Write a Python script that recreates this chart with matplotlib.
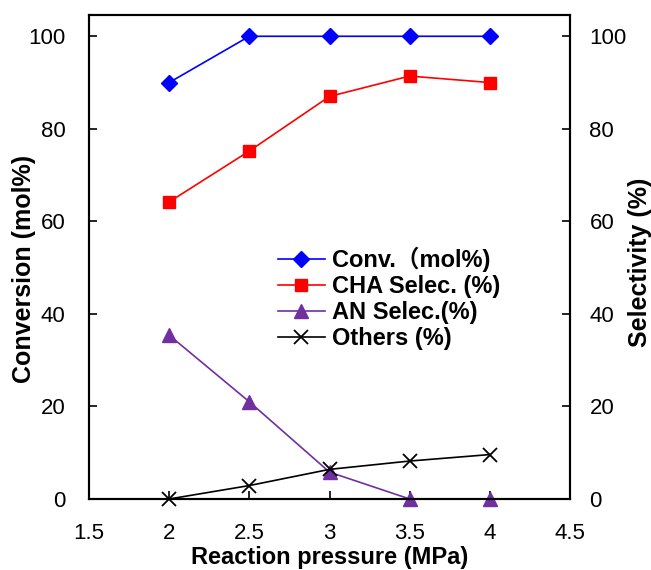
import numpy as np
import matplotlib.pyplot as plt

plt.rcParams['font.family'] = ['Liberation Sans', 'Noto Sans CJK SC']

pressure = [2, 2.5, 3, 3.5, 4]
conv = [90, 100, 100, 100, 100]
cha_sel = [64.2, 75.2, 87.0, 91.4, 90.0]
an_sel = [35.4, 21.0, 5.8, 0, 0]
others = [0, 2.9, 6.4, 8.2, 9.6]

fig = plt.figure(figsize=(6.51, 5.70), dpi=100)
ax = fig.add_axes([0.1367, 0.1246, 0.7389, 0.8491])
ax2 = ax.twinx()

ax.plot(pressure, conv, color='#0000FF', marker='D', markersize=8, lw=1.2,
        clip_on=False, label='Conv.（mol%)')
ax.plot(pressure, cha_sel, color='#FF0000', marker='s', markersize=9, lw=1.2,
        clip_on=False, label='CHA Selec. (%)')
ax.plot(pressure, an_sel, color='#7030A0', marker='^', markersize=10, lw=1.2,
        clip_on=False, label='AN Selec.(%)')
ax.plot(pressure, others, color='black', marker='x', markersize=10, mew=1.3, lw=1.2,
        clip_on=False, label='Others (%)')

for a in (ax, ax2):
    a.set_ylim(0, 104.6)
    a.set_yticks([0, 20, 40, 60, 80, 100])
    for s in a.spines.values():
        s.set_linewidth(1.5)
ax.set_xlim(1.5, 4.5)
ax.set_xticks([1.5, 2, 2.5, 3, 3.5, 4, 4.5])
ax.set_xticklabels(['1.5', '2', '2.5', '3', '3.5', '4', '4.5'])
ax.tick_params(axis='both', direction='in', labelsize=16, length=6, width=1.2)
ax.tick_params(axis='x', pad=17)
ax.tick_params(axis='y', pad=17)
ax2.tick_params(axis='y', direction='in', labelsize=16, length=6, width=1.2, pad=14)

ax.set_xlabel('Reaction pressure (MPa)', fontsize=17, fontweight='bold', labelpad=2)
ax.set_ylabel('Conversion (mol%)', fontsize=18, fontweight='bold')
ax2.set_ylabel('Selectivity (%)', fontsize=18, fontweight='bold')
ax.yaxis.set_label_coords(-0.110, 0.475)
ax2.yaxis.set_label_coords(1.120, 0.488)

ax.legend(loc='upper left', bbox_to_anchor=(0.368, 0.546), frameon=False,
          prop={'size': 17, 'weight': 'bold'}, handlelength=2.0,
          labelspacing=0.13, handletextpad=0.3, borderpad=0)

fig.savefig('out.png', dpi=100)
